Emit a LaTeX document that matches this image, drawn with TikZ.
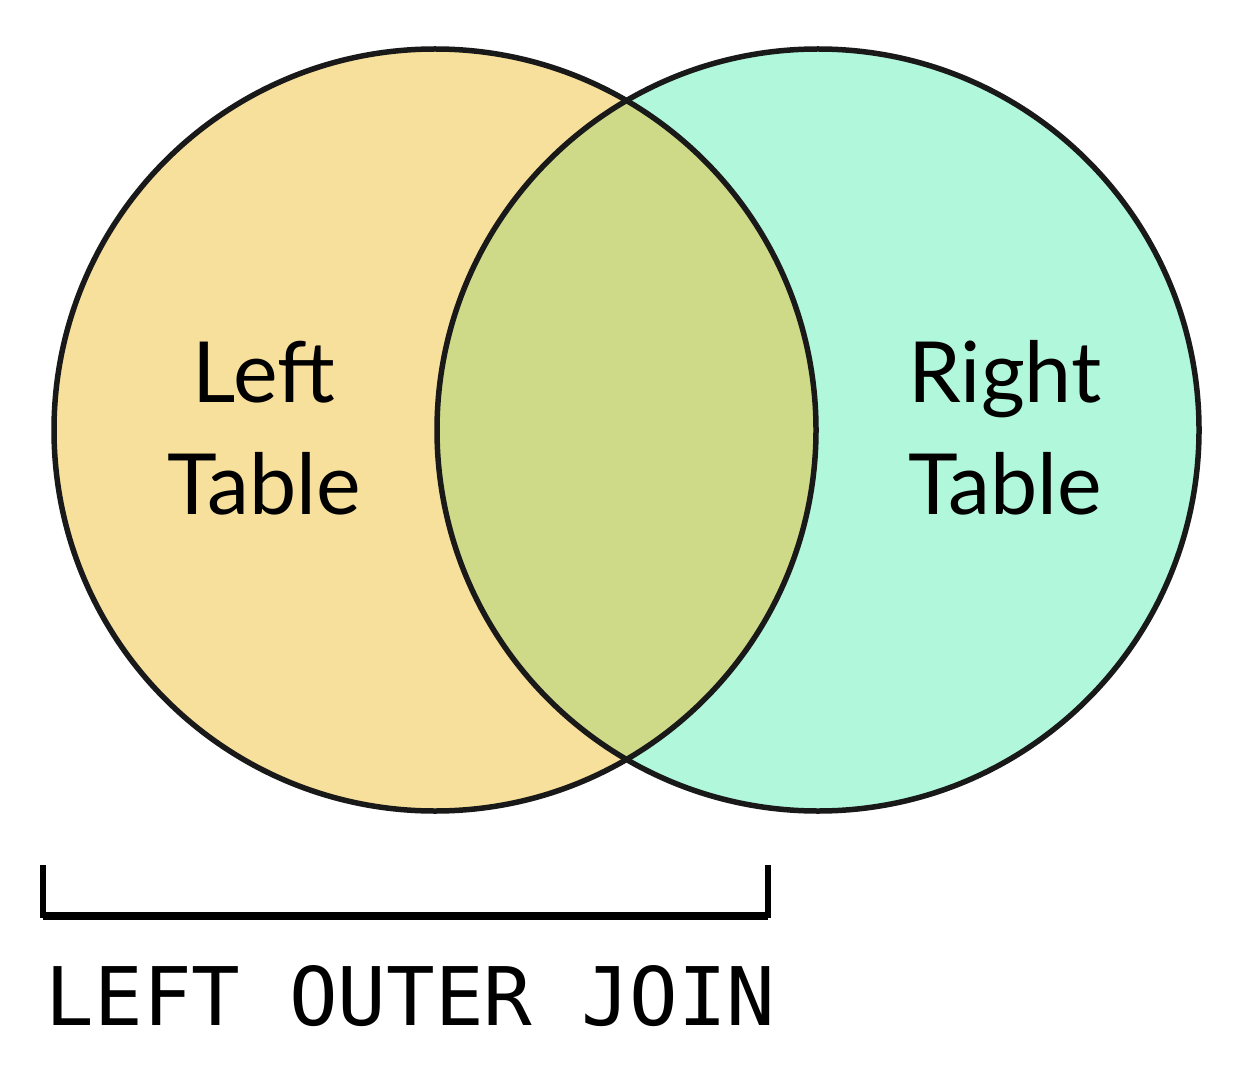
\documentclass[tikz,border=0pt]{standalone}
\usepackage{fontspec}
\setmainfont{Lato}
\setmonofont{DejaVu Sans Mono}
\usetikzlibrary{positioning}

\definecolor{leftfill}{HTML}{F7DF9C}
\definecolor{rightfill}{HTML}{B1F7DB}
\definecolor{bothfill}{HTML}{CFDA89}

\begin{document}
\begin{tikzpicture}
% Define styles
\tikzstyle{tableset} = [circle, minimum size=7.62cm, inner sep=0pt]
\tikzstyle{outline} = [draw=black!90, line width=0.055cm]
\tikzstyle{label} = [align=center, font=\fontsize{24}{32}\selectfont]
\tikzstyle{bracket} = [line width=0.065cm, line join=miter]

\useasboundingbox (0,0) rectangle (12.42,10.76);

% Draw sets
\node (lefttable) [tableset, fill=leftfill] at (4.35,6.46) {};
\node (righttable) [tableset, fill=rightfill] at (8.18,6.46) {};
\begin{scope}
\clip (lefttable.center) circle (3.81);
\fill[bothfill] (righttable.center) circle (3.81);
\end{scope}
\draw [outline] (lefttable.center) circle (3.81);
\draw [outline] (righttable.center) circle (3.81);

% Draw labels
\node (leftlabel) [label] at (2.64,6.48) {Left\\Table};
\node (rightlabel) [label] at (10.05,6.48) {Right\\Table};

% Draw bracket
\coordinate (bracketl) at (0.43,2.11);
\coordinate (bracketr) at (7.68,2.11);
\draw [bracket] (bracketl) -- ++(0,-0.5) -| (bracketr);
\draw [line width=0.085cm] ([yshift=-0.51cm]bracketl) -- ([yshift=-0.51cm]bracketr);
\node (join) [anchor=base west, inner sep=0pt, font=\ttfamily\fontsize{23}{27}\selectfont] at (0.45,0.51) {LEFT OUTER JOIN};
\end{tikzpicture}
\end{document}
